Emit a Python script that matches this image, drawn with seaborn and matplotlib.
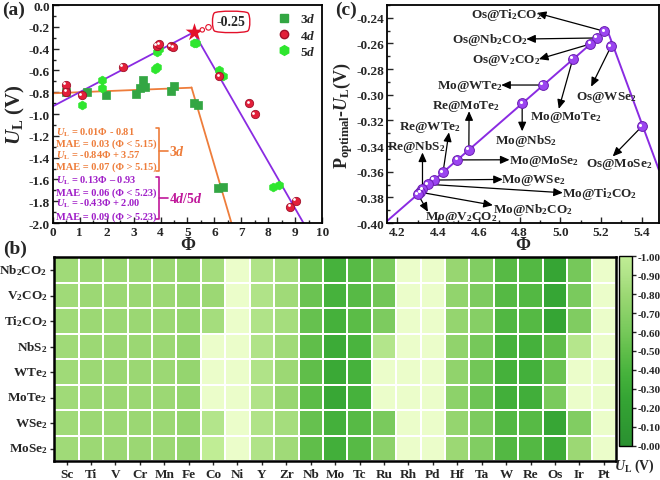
import numpy as np
import pandas as pd
import matplotlib
matplotlib.use('Agg')
import matplotlib.pyplot as plt
import seaborn as sns
from matplotlib.colors import LinearSegmentedColormap
from matplotlib.lines import Line2D
from matplotlib.transforms import ScaledTranslation
from matplotlib.ticker import MultipleLocator, FormatStrFormatter

# ---------------- data: panel (a) ----------------
phi_3d = [0.50, 1.26, 1.98, 3.10, 3.24, 3.34, 3.42, 4.39, 4.51, 5.24, 5.40, 6.14, 6.33]
ul_3d = [-0.80, -0.795, -0.83, -0.82, -0.76, -0.69, -0.755, -0.786, -0.74, -0.90, -0.92, -1.68, -1.67]
phi_4d = [0.49, 0.51, 1.07, 2.60, 3.86, 3.95, 4.38, 4.47, 6.18, 7.29, 7.50, 8.80, 9.02]
ul_4d = [-0.73, -0.795, -0.83, -0.566, -0.373, -0.358, -0.38, -0.388, -0.654, -0.90, -1.00, -1.85, -1.795]
phi_5d = [1.07, 1.84, 1.82, 3.80, 3.88, 3.86, 3.95, 5.24, 5.33, 6.18, 6.33, 8.18, 8.40]
ul_5d = [-0.92, -0.69, -0.76, -0.59, -0.566, -0.434, -0.40, -0.35, -0.35, -0.60, -0.65, -1.67, -1.65]
peak_phi, peak_ul = 5.23, -0.25
# fit lines: (slope, intercept) for left / right branch, break point
fit_3d = [(0.01, -0.81), (-0.84, 3.57)]
break_3d = 5.15
fit_45d = [(0.13, -0.93), (-0.43, 2.00)]
break_45d = 5.23

# ---------------- data: panel (c) ----------------
c_labels = ["Os@Ti$_2$CO$_2$", "Os@Nb$_2$CO$_2$", "Os@V$_2$CO$_2$", "Os@WSe$_2$",
            "Mo@MoTe$_2$", "Mo@WTe$_2$", "Mo@NbS$_2$", "Os@MoSe$_2$",
            "Re@MoTe$_2$", "Mo@MoSe$_2$", "Re@WTe$_2$", "Mo@WSe$_2$",
            "Mo@Ti$_2$CO$_2$", "Re@NbS$_2$", "Mo@Nb$_2$CO$_2$", "Mo@V$_2$CO$_2$"]
c_phi = [5.217, 5.181, 5.148, 5.250, 5.062, 4.915, 4.813, 5.402,
         4.551, 4.494, 4.424, 4.380, 4.350, 4.323, 4.312, 4.301]
c_ul = [-0.2505, -0.2557, -0.2604, -0.2622, -0.2720, -0.2924, -0.3068, -0.3246,
        -0.3430, -0.3508, -0.3604, -0.3665, -0.3698, -0.3738, -0.3760, -0.3777]
fit_c = [(0.138, -0.971), (-0.43, 2.00)]

# ---------------- data: panel (b) ----------------
metals = ["Sc", "Ti", "V", "Cr", "Mn", "Fe", "Co", "Ni", "Y", "Zr", "Nb", "Mo",
          "Tc", "Ru", "Rh", "Pd", "Hf", "Ta", "W", "Re", "Os", "Ir", "Pt"]
substrates = ["Nb$_2$CO$_2$", "V$_2$CO$_2$", "Ti$_2$CO$_2$", "NbS$_2$",
              "WTe$_2$", "MoTe$_2$", "WSe$_2$", "MoSe$_2$"]
ul_Nb2CO2 = [-0.82, -0.80, -0.80, -0.79, -0.80, -0.76, -0.84, -1.2, -0.90, -0.84, -0.55, -0.376,
             -0.46, -0.62, -1.2, -1.2, -0.78, -0.66, -0.46, -0.44, -0.256, -0.60, -1.2]
ul_V2CO2 = [-0.82, -0.80, -0.80, -0.79, -0.80, -0.76, -0.80, -1.2, -0.90, -0.82, -0.55, -0.378,
            -0.46, -0.58, -1.2, -1.2, -0.75, -0.64, -0.45, -0.44, -0.260, -0.62, -1.2]
ul_Ti2CO2 = [-0.82, -0.80, -0.80, -0.79, -0.80, -0.76, -0.84, -1.2, -0.90, -0.84, -0.53, -0.370,
             -0.48, -0.64, -1.2, -1.2, -0.76, -0.68, -0.43, -0.45, -0.250, -0.65, -1.2]
ul_NbS2 = [-0.82, -0.80, -0.79, -0.79, -0.80, -0.76, -1.2, -1.2, -0.90, -0.82, -0.50, -0.307,
           -0.40, -0.92, -1.2, -1.2, -0.74, -0.60, -0.38, -0.374, -0.50, -0.93, -1.2]
ul_WTe2 = [-0.82, -0.80, -0.79, -0.79, -0.80, -0.76, -1.2, -1.2, -0.90, -0.80, -0.50, -0.292,
           -0.38, -1.2, -1.2, -1.2, -0.74, -0.58, -0.37, -0.361, -0.55, -1.2, -1.2]
ul_MoTe2 = [-0.82, -0.80, -0.79, -0.79, -0.80, -0.76, -1.2, -1.2, -0.90, -0.78, -0.48, -0.272,
            -0.38, -1.2, -1.2, -1.2, -0.72, -0.56, -0.35, -0.343, -0.62, -1.2, -1.2]
ul_WSe2 = [-0.82, -0.80, -0.80, -0.79, -0.80, -0.76, -0.92, -1.2, -0.90, -0.84, -0.53, -0.366,
           -0.46, -0.62, -1.2, -1.2, -0.76, -0.64, -0.44, -0.46, -0.262, -0.66, -1.2]
ul_MoSe2 = [-0.82, -0.80, -0.80, -0.79, -0.80, -0.76, -1.0, -1.2, -0.90, -0.82, -0.50, -0.351,
            -0.46, -0.72, -1.2, -1.2, -0.80, -0.66, -0.44, -0.44, -0.324, -0.80, -1.2]

# ---------------- style ----------------
sns.set_theme(style='ticks')
plt.rcParams['font.family'] = ['Liberation Serif', 'DejaVu Serif']
plt.rcParams['font.weight'] = 'bold'
plt.rcParams['axes.labelweight'] = 'bold'
plt.rcParams['mathtext.fontset'] = 'custom'
plt.rcParams['mathtext.rm'] = 'Liberation Serif:bold'
plt.rcParams['mathtext.it'] = 'Liberation Serif:italic:bold'
plt.rcParams['mathtext.bf'] = 'Liberation Serif:bold'
plt.rcParams['axes.unicode_minus'] = False
plt.rcParams['axes.edgecolor'] = 'black'

C3D = '#33a643'
C4D = '#e3203a'
C5D = '#2ee62e'
ORANGE = '#ee7d3b'
PURPLE = '#8a2be2'
MAG = '#a01fc8'

fig = plt.figure(figsize=(6.6, 4.81), dpi=100)

# ================= panel (a) =================
axa = fig.add_axes([0.0798, 0.5343, 0.4085, 0.4532])
xs = np.linspace(0, break_3d, 50)
axa.plot(xs, fit_3d[0][0] * xs + fit_3d[0][1], color=ORANGE, lw=1.3, zorder=2)
xs = np.linspace(break_3d, 8, 50)
axa.plot(xs, fit_3d[1][0] * xs + fit_3d[1][1], color=ORANGE, lw=1.3, zorder=2)
xs = np.linspace(0, break_45d, 50)
axa.plot(xs, fit_45d[0][0] * xs + fit_45d[0][1], color=PURPLE, lw=1.3, zorder=2)
xs = np.linspace(break_45d, 10, 50)
axa.plot(xs, fit_45d[1][0] * xs + fit_45d[1][1], color=PURPLE, lw=1.3, zorder=2)

sns.scatterplot(x=phi_3d, y=ul_3d, marker='s', color=C3D, s=30, edgecolor=C3D, linewidth=0.5, ax=axa, legend=False, zorder=3)
sns.scatterplot(x=phi_5d, y=ul_5d, marker='h', color=C5D, s=40, edgecolor=C5D, linewidth=0.5, ax=axa, legend=False, zorder=3)
sns.scatterplot(x=phi_4d, y=ul_4d, marker='o', color=C4D, s=36, edgecolor='#a0102a', linewidth=0.6, ax=axa, legend=False, zorder=4)
hl = axa.transData + ScaledTranslation(-1.0 / 72, 1.0 / 72, fig.dpi_scale_trans)
axa.scatter(phi_4d, ul_4d, s=4, color='white', transform=hl, zorder=5, linewidths=0)
axa.scatter([peak_phi], [peak_ul], marker='*', s=180, color='#e3102a', zorder=6, linewidths=0)

# callout
axa.scatter([5.55, 5.78], [-0.228, -0.205], s=[10, 16], facecolor='white', edgecolor='#e3102a', linewidth=0.8, zorder=6)
axa.text(6.62, -0.155, '-0.25', fontsize=10, ha='center', va='center', zorder=7,
         bbox=dict(boxstyle='round4,pad=0.35', fc='white', ec='#e3102a', lw=1.0))

axa.set_xlim(0, 10)
axa.set_ylim(-2.0, 0.0)
axa.xaxis.set_major_locator(MultipleLocator(1))
axa.xaxis.set_minor_locator(MultipleLocator(0.5))
axa.yaxis.set_major_locator(MultipleLocator(0.2))
axa.yaxis.set_minor_locator(MultipleLocator(0.1))
axa.yaxis.set_major_formatter(FormatStrFormatter('%.1f'))
axa.tick_params(which='both', direction='in', labelsize=9.5, pad=2, width=1)
axa.tick_params(which='major', length=4)
axa.tick_params(which='minor', length=2)
for sp in axa.spines.values():
    sp.set_linewidth(1.3)
axa.set_xlabel('Φ', fontsize=13, labelpad=-1)
axa.set_ylabel(r'$U_\mathrm{L}$ (V)', fontsize=15, labelpad=1)

handles = [Line2D([], [], marker='s', color=C3D, ls='none', ms=6),
           Line2D([], [], marker='o', color=C4D, mec='#a0102a', ls='none', ms=6),
           Line2D([], [], marker='h', color=C5D, ls='none', ms=7)]
axa.legend(handles, [r'$3d$', r'$4d$', r'$5d$'], loc='upper right', frameon=False,
           fontsize=9.5, handletextpad=0.6, labelspacing=0.25, borderaxespad=0.15, handlelength=1.2)

eq_y = [-1.162, -1.266, -1.376, -1.480, -1.606, -1.713, -1.817, -1.933]
eq_txt = [r'$U_\mathrm{L}$ = 0.01Φ - 0.81', 'MAE = 0.03 (Φ < 5.15)',
          r'$U_\mathrm{L}$ = -0.84Φ + 3.57', 'MAE = 0.07 (Φ > 5.15)',
          r'$U_\mathrm{L}$ = 0.13Φ – 0.93', 'MAE = 0.06 (Φ < 5.23)',
          r'$U_\mathrm{L}$ = -0.43Φ + 2.00', 'MAE = 0.09 (Φ > 5.23)']
for i, (yy, tt) in enumerate(zip(eq_y, eq_txt)):
    axa.text(0.14, yy, tt, fontsize=7.5, color=ORANGE if i < 4 else MAG, ha='left', va='center')
# brackets
axa.plot([3.82, 3.94, 3.94, 3.82], [-1.128, -1.128, -1.52, -1.52], color=ORANGE, lw=1.2)
axa.plot([3.94, 4.27], [-1.337, -1.337], color=ORANGE, lw=1.2)
axa.text(4.30, -1.337, r'$3d$', fontsize=10, color=ORANGE, ha='left', va='center')
axa.plot([3.82, 3.94, 3.94, 3.82], [-1.575, -1.575, -1.963, -1.963], color='#c0189a', lw=1.2)
axa.plot([3.94, 4.27], [-1.773, -1.773], color='#c0189a', lw=1.2)
axa.text(4.30, -1.773, r'$4d/5d$', fontsize=10, color='#c0189a', ha='left', va='center')

# ================= panel (c) =================
axc = fig.add_axes([0.5868, 0.5343, 0.4115, 0.4532])
xl = (4.15, 5.485)
xpk = (fit_c[1][1] - fit_c[0][1]) / (fit_c[0][0] - fit_c[1][0])
xs = np.linspace(xl[0], xpk, 50)
axc.plot(xs, fit_c[0][0] * xs + fit_c[0][1], color=PURPLE, lw=1.4, zorder=2)
xs = np.linspace(xpk, xl[1], 50)
axc.plot(xs, fit_c[1][0] * xs + fit_c[1][1], color=PURPLE, lw=1.4, zorder=2)
sns.scatterplot(x=c_phi, y=c_ul, marker='o', color='#9b45f0', s=50, edgecolor='#6a1fb0', linewidth=0.7, ax=axc, legend=False, zorder=4)
hlc = axc.transData + ScaledTranslation(-1.2 / 72, 1.2 / 72, fig.dpi_scale_trans)
axc.scatter(c_phi, c_ul, s=5, color='white', transform=hlc, zorder=5, linewidths=0)

# annotation layout: text centre and arrow-head positions
ann_text = [(4.735, -0.2369), (4.653, -0.2565), (4.735, -0.2722), (5.225, -0.3010),
            (5.029, -0.3167), (4.555, -0.2924), (4.833, -0.3350), (5.291, -0.3539),
            (4.539, -0.3083), (4.923, -0.3513), (4.359, -0.3246), (4.866, -0.3664),
            (5.193, -0.3769), (4.293, -0.3403), (4.866, -0.3887), (4.514, -0.3952)]
ann_head = [(4.885, -0.2362), (4.833, -0.2565), (4.895, -0.2722), (5.152, -0.2937),
            (4.993, -0.3110), (4.710, -0.2924), (4.813, -0.3285), (5.258, -0.3481),
            (4.552, -0.3128), (4.751, -0.3507), (4.453, -0.3293), (4.718, -0.3660),
            (5.013, -0.3764), (4.323, -0.3450), (4.669, -0.3861), (4.350, -0.3913)]
for lab, px, py, (tx, ty), (hx, hy) in zip(c_labels, c_phi, c_ul, ann_text, ann_head):
    axc.annotate('', xy=(hx, hy), xytext=(px, py),
                 arrowprops=dict(arrowstyle='-|>,head_length=0.45,head_width=0.2', color='black',
                                 lw=0.9, shrinkA=3, shrinkB=0), zorder=3)
    axc.text(tx, ty, lab, fontsize=9.5, ha='center', va='center', zorder=6)

axc.set_xlim(*xl)
axc.set_ylim(-0.40, -0.23)
axc.xaxis.set_major_locator(MultipleLocator(0.2))
axc.xaxis.set_minor_locator(MultipleLocator(0.1))
axc.yaxis.set_major_locator(MultipleLocator(0.02))
axc.yaxis.set_minor_locator(MultipleLocator(0.01))
axc.xaxis.set_major_formatter(FormatStrFormatter('%.1f'))
axc.yaxis.set_major_formatter(FormatStrFormatter('%.2f'))
axc.tick_params(which='both', direction='in', labelsize=9.5, pad=2, width=1)
axc.tick_params(which='major', length=4)
axc.tick_params(which='minor', length=2)
for sp in axc.spines.values():
    sp.set_linewidth(1.3)
axc.set_xlabel('Φ', fontsize=13, labelpad=-1)
axc.set_ylabel(r'P$_\mathrm{optimal}$-$U_\mathrm{L}$(V)', fontsize=13, labelpad=1)

# ================= panel (b) =================
df = pd.DataFrame([ul_Nb2CO2, ul_V2CO2, ul_Ti2CO2, ul_NbS2, ul_WTe2, ul_MoTe2, ul_WSe2, ul_MoSe2],
                  index=substrates, columns=metals)
cmap = LinearSegmentedColormap.from_list('ulgreen', [
    (0.00, '#c0ed95'), (0.10, '#b0e388'), (0.20, '#9cd874'), (0.40, '#76c85a'),
    (0.50, '#60be4a'), (0.62, '#46b23c'), (0.75, '#35a534'), (1.00, '#2a9030')])
cmap.set_under('#ebfdca')
axb = fig.add_axes([0.0823, 0.0389, 0.851, 0.4241])
cax = fig.add_axes([0.9383, 0.0713, 0.0188, 0.3938])
sns.heatmap(df, ax=axb, cbar_ax=cax, cmap=cmap, vmin=-1.0, vmax=0.0,
            linewidths=1.3, linecolor='white',
            cbar_kws={'ticks': np.round(np.arange(-1.0, 0.001, 0.1), 2)})
for sp in axb.spines.values():
    sp.set_visible(True)
    sp.set_linewidth(1.8)
    sp.set_color('black')
axb.set_xlabel('')
axb.set_ylabel('')
axb.tick_params(axis='both', direction='out', length=3, width=1, labelsize=9, pad=2)
axb.set_xticklabels(metals, rotation=0, fontsize=9.5, fontweight='bold')
axb.set_yticklabels(substrates, rotation=0, fontsize=9.5, fontweight='bold')

cbar = axb.collections[0].colorbar
cbar.ax.invert_yaxis()
cbar.ax.yaxis.set_major_formatter(FormatStrFormatter('%.2f'))
cbar.ax.tick_params(labelsize=8, length=3, width=1, pad=1, direction='out')
cbar.outline.set_linewidth(1.0)
cbar.outline.set_edgecolor('black')
fig.text(0.962, 0.030, r'$U_\mathrm{L}$ (V)', fontsize=10, ha='center', va='center')

# panel labels
fig.text(0.003, 0.978, '(a)', fontsize=14, ha='left', va='center')
fig.text(0.005, 0.482, '(b)', fontsize=14, ha='left', va='center')
fig.text(0.508, 0.978, '(c)', fontsize=14, ha='left', va='center')

fig.savefig('out.png', dpi=100)
